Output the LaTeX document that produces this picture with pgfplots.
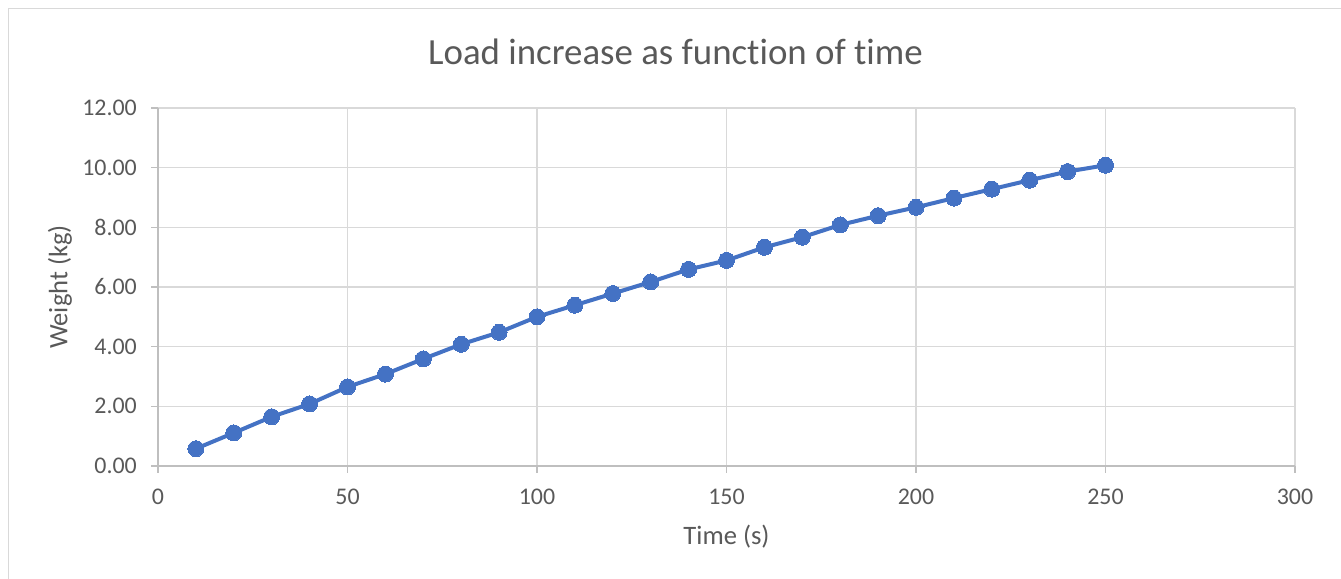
\documentclass[border=0pt]{standalone}
\usepackage{fontspec}
\setmainfont{Carlito}[Ligatures=NoCommon]
\usepackage{pgfplots}
\pgfplotsset{compat=1.18}
\definecolor{series}{HTML}{4472C4}
\definecolor{gridc}{HTML}{D9D9D9}
\definecolor{axisc}{HTML}{BFBFBF}
\definecolor{txt}{HTML}{595959}
\begin{document}
\begin{tikzpicture}[x=1bp,y=1bp]
\path[use as bounding box] (0,0) rectangle (1341,579);
\draw[gridc, line width=1bp] (8.5,0) -- (8.5,570.5) -- (1341,570.5);
\begin{axis}[
  at={(158bp,113bp)}, anchor=south west,
  scale only axis, width=1137bp, height=358bp,
  xmin=0, xmax=300, ymin=0, ymax=12,
  xtick={0,50,...,300}, ytick={0,2,...,12},
  axis lines*=left,
  grid=major,
  major grid style={gridc, line width=1.3bp},
  axis line style={axisc, line width=1.3bp},
  tick style={axisc, line width=1.3bp},
  tick align=outside, major tick length=7bp,
  /pgf/number format/assume math mode=true,
  ticklabel style={font=\fontsize{24}{24}\selectfont, text=txt},
  xticklabel style={anchor=center, yshift=-24bp, /pgf/number format/fixed},
  yticklabel style={anchor=east, inner sep=0pt, xshift=-14bp,
    /pgf/number format/.cd, fixed, fixed zerofill, precision=2},
  clip=false,
]
\addplot[series, line width=4bp, mark=*, mark size=8bp,
  mark options={fill=series, draw=series, line width=0pt}] coordinates {
(10,0.58) (20,1.11) (30,1.65) (40,2.08) (50,2.65) (60,3.08) (70,3.59)
(80,4.08) (90,4.48) (100,5.00) (110,5.39) (120,5.78) (130,6.17) (140,6.59)
(150,6.89) (160,7.33) (170,7.67) (180,8.08) (190,8.39) (200,8.67) (210,8.98)
(220,9.28) (230,9.58) (240,9.87) (250,10.08)
};
\end{axis}
\node[font=\fontsize{37}{37}\selectfont, text=txt] at (675.5,527) {Load increase as function of time};
\node[font=\fontsize{26.7}{26.7}\selectfont, text=txt] at (726.5,42) {Time (s)};
\node[font=\fontsize{26.7}{26.7}\selectfont, text=txt, rotate=90] at (60,292) {Weight (kg)};
\end{tikzpicture}
\end{document}
